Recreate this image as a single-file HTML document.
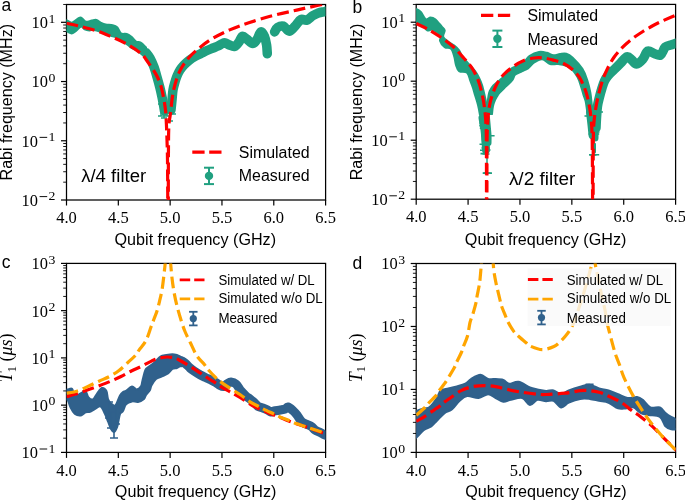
<!DOCTYPE html><html><head><meta charset="utf-8"><style>html,body{margin:0;padding:0;background:#fff;}svg{display:block;will-change:transform;} .tk{}</style></head><body>
<svg width="685" height="501" viewBox="0 0 685 501">
<defs><clipPath id="clipa"><rect x="66.5" y="4.5" width="259.1" height="195.5"/></clipPath><clipPath id="clipb"><rect x="416.2" y="4.4" width="259.4" height="194.8"/></clipPath><clipPath id="clipc"><rect x="66.5" y="263.4" width="259.1" height="189"/></clipPath><clipPath id="clipd"><rect x="416.2" y="263.5" width="259.4" height="188.9"/></clipPath></defs>
<rect width="685" height="501" fill="#fff"/>
<line x1="61" y1="200" x2="66.5" y2="200" stroke="#000" stroke-width="1.2"/>
<line x1="63.2" y1="182.17" x2="66.5" y2="182.17" stroke="#000" stroke-width="0.9"/>
<line x1="63.2" y1="171.74" x2="66.5" y2="171.74" stroke="#000" stroke-width="0.9"/>
<line x1="63.2" y1="164.34" x2="66.5" y2="164.34" stroke="#000" stroke-width="0.9"/>
<line x1="63.2" y1="158.6" x2="66.5" y2="158.6" stroke="#000" stroke-width="0.9"/>
<line x1="63.2" y1="153.91" x2="66.5" y2="153.91" stroke="#000" stroke-width="0.9"/>
<line x1="63.2" y1="149.94" x2="66.5" y2="149.94" stroke="#000" stroke-width="0.9"/>
<line x1="63.2" y1="146.51" x2="66.5" y2="146.51" stroke="#000" stroke-width="0.9"/>
<line x1="63.2" y1="143.48" x2="66.5" y2="143.48" stroke="#000" stroke-width="0.9"/>
<line x1="61" y1="140.77" x2="66.5" y2="140.77" stroke="#000" stroke-width="1.2"/>
<line x1="63.2" y1="122.94" x2="66.5" y2="122.94" stroke="#000" stroke-width="0.9"/>
<line x1="63.2" y1="112.51" x2="66.5" y2="112.51" stroke="#000" stroke-width="0.9"/>
<line x1="63.2" y1="105.1" x2="66.5" y2="105.1" stroke="#000" stroke-width="0.9"/>
<line x1="63.2" y1="99.36" x2="66.5" y2="99.36" stroke="#000" stroke-width="0.9"/>
<line x1="63.2" y1="94.67" x2="66.5" y2="94.67" stroke="#000" stroke-width="0.9"/>
<line x1="63.2" y1="90.71" x2="66.5" y2="90.71" stroke="#000" stroke-width="0.9"/>
<line x1="63.2" y1="87.27" x2="66.5" y2="87.27" stroke="#000" stroke-width="0.9"/>
<line x1="63.2" y1="84.24" x2="66.5" y2="84.24" stroke="#000" stroke-width="0.9"/>
<line x1="61" y1="81.53" x2="66.5" y2="81.53" stroke="#000" stroke-width="1.2"/>
<line x1="63.2" y1="63.7" x2="66.5" y2="63.7" stroke="#000" stroke-width="0.9"/>
<line x1="63.2" y1="53.27" x2="66.5" y2="53.27" stroke="#000" stroke-width="0.9"/>
<line x1="63.2" y1="45.87" x2="66.5" y2="45.87" stroke="#000" stroke-width="0.9"/>
<line x1="63.2" y1="40.13" x2="66.5" y2="40.13" stroke="#000" stroke-width="0.9"/>
<line x1="63.2" y1="35.44" x2="66.5" y2="35.44" stroke="#000" stroke-width="0.9"/>
<line x1="63.2" y1="31.48" x2="66.5" y2="31.48" stroke="#000" stroke-width="0.9"/>
<line x1="63.2" y1="28.04" x2="66.5" y2="28.04" stroke="#000" stroke-width="0.9"/>
<line x1="63.2" y1="25.01" x2="66.5" y2="25.01" stroke="#000" stroke-width="0.9"/>
<line x1="61" y1="22.3" x2="66.5" y2="22.3" stroke="#000" stroke-width="1.2"/>
<line x1="63.2" y1="4.47" x2="66.5" y2="4.47" stroke="#000" stroke-width="0.9"/>
<line x1="66.5" y1="200" x2="66.5" y2="205.5" stroke="#000" stroke-width="1.2"/>
<text x="66.5" y="223.2" text-anchor="middle" class="tk" style="font-family:'Liberation Serif',serif;font-size:16.5px">4.0</text>
<line x1="118.32" y1="200" x2="118.32" y2="205.5" stroke="#000" stroke-width="1.2"/>
<text x="118.32" y="223.2" text-anchor="middle" class="tk" style="font-family:'Liberation Serif',serif;font-size:16.5px">4.5</text>
<line x1="170.14" y1="200" x2="170.14" y2="205.5" stroke="#000" stroke-width="1.2"/>
<text x="170.14" y="223.2" text-anchor="middle" class="tk" style="font-family:'Liberation Serif',serif;font-size:16.5px">5.0</text>
<line x1="221.96" y1="200" x2="221.96" y2="205.5" stroke="#000" stroke-width="1.2"/>
<text x="221.96" y="223.2" text-anchor="middle" class="tk" style="font-family:'Liberation Serif',serif;font-size:16.5px">5.5</text>
<line x1="273.78" y1="200" x2="273.78" y2="205.5" stroke="#000" stroke-width="1.2"/>
<text x="273.78" y="223.2" text-anchor="middle" class="tk" style="font-family:'Liberation Serif',serif;font-size:16.5px">6.0</text>
<line x1="325.6" y1="200" x2="325.6" y2="205.5" stroke="#000" stroke-width="1.2"/>
<text x="325.6" y="223.2" text-anchor="middle" class="tk" style="font-family:'Liberation Serif',serif;font-size:16.5px">6.5</text>
<text transform="translate(47.9,28.2) scale(0.95,1)" text-anchor="end" class="tk" style="font-family:'Liberation Serif',serif;font-size:17.3px">10</text>
<text transform="translate(51.9,22.5) scale(1.12,1)" text-anchor="middle" class="tk" style="font-family:'Liberation Serif',serif;font-size:12.3px">1</text>
<text transform="translate(47.9,87.43) scale(0.95,1)" text-anchor="end" class="tk" style="font-family:'Liberation Serif',serif;font-size:17.3px">10</text>
<text transform="translate(51.9,81.73) scale(1.12,1)" text-anchor="middle" class="tk" style="font-family:'Liberation Serif',serif;font-size:12.3px">0</text>
<text transform="translate(37.9,146.67) scale(0.95,1)" text-anchor="end" class="tk" style="font-family:'Liberation Serif',serif;font-size:17.3px">10</text>
<text transform="translate(51.9,140.97) scale(1.12,1)" text-anchor="middle" class="tk" style="font-family:'Liberation Serif',serif;font-size:12.3px">1</text>
<line x1="39.6" y1="137.37" x2="47.2" y2="137.37" stroke="#000" stroke-width="0.95"/>
<text transform="translate(37.9,205.9) scale(0.95,1)" text-anchor="end" class="tk" style="font-family:'Liberation Serif',serif;font-size:17.3px">10</text>
<text transform="translate(51.9,200.2) scale(1.12,1)" text-anchor="middle" class="tk" style="font-family:'Liberation Serif',serif;font-size:12.3px">2</text>
<line x1="39.6" y1="196.6" x2="47.2" y2="196.6" stroke="#000" stroke-width="0.95"/>
<rect x="66.5" y="4.5" width="259.1" height="195.5" fill="none" stroke="#000" stroke-width="1.25"/>
<line x1="410.7" y1="199.2" x2="416.2" y2="199.2" stroke="#000" stroke-width="1.2"/>
<line x1="412.9" y1="181.44" x2="416.2" y2="181.44" stroke="#000" stroke-width="0.9"/>
<line x1="412.9" y1="171.05" x2="416.2" y2="171.05" stroke="#000" stroke-width="0.9"/>
<line x1="412.9" y1="163.68" x2="416.2" y2="163.68" stroke="#000" stroke-width="0.9"/>
<line x1="412.9" y1="157.96" x2="416.2" y2="157.96" stroke="#000" stroke-width="0.9"/>
<line x1="412.9" y1="153.29" x2="416.2" y2="153.29" stroke="#000" stroke-width="0.9"/>
<line x1="412.9" y1="149.34" x2="416.2" y2="149.34" stroke="#000" stroke-width="0.9"/>
<line x1="412.9" y1="145.92" x2="416.2" y2="145.92" stroke="#000" stroke-width="0.9"/>
<line x1="412.9" y1="142.9" x2="416.2" y2="142.9" stroke="#000" stroke-width="0.9"/>
<line x1="410.7" y1="140.2" x2="416.2" y2="140.2" stroke="#000" stroke-width="1.2"/>
<line x1="412.9" y1="122.44" x2="416.2" y2="122.44" stroke="#000" stroke-width="0.9"/>
<line x1="412.9" y1="112.05" x2="416.2" y2="112.05" stroke="#000" stroke-width="0.9"/>
<line x1="412.9" y1="104.68" x2="416.2" y2="104.68" stroke="#000" stroke-width="0.9"/>
<line x1="412.9" y1="98.96" x2="416.2" y2="98.96" stroke="#000" stroke-width="0.9"/>
<line x1="412.9" y1="94.29" x2="416.2" y2="94.29" stroke="#000" stroke-width="0.9"/>
<line x1="412.9" y1="90.34" x2="416.2" y2="90.34" stroke="#000" stroke-width="0.9"/>
<line x1="412.9" y1="86.92" x2="416.2" y2="86.92" stroke="#000" stroke-width="0.9"/>
<line x1="412.9" y1="83.9" x2="416.2" y2="83.9" stroke="#000" stroke-width="0.9"/>
<line x1="410.7" y1="81.2" x2="416.2" y2="81.2" stroke="#000" stroke-width="1.2"/>
<line x1="412.9" y1="63.44" x2="416.2" y2="63.44" stroke="#000" stroke-width="0.9"/>
<line x1="412.9" y1="53.05" x2="416.2" y2="53.05" stroke="#000" stroke-width="0.9"/>
<line x1="412.9" y1="45.68" x2="416.2" y2="45.68" stroke="#000" stroke-width="0.9"/>
<line x1="412.9" y1="39.96" x2="416.2" y2="39.96" stroke="#000" stroke-width="0.9"/>
<line x1="412.9" y1="35.29" x2="416.2" y2="35.29" stroke="#000" stroke-width="0.9"/>
<line x1="412.9" y1="31.34" x2="416.2" y2="31.34" stroke="#000" stroke-width="0.9"/>
<line x1="412.9" y1="27.92" x2="416.2" y2="27.92" stroke="#000" stroke-width="0.9"/>
<line x1="412.9" y1="24.9" x2="416.2" y2="24.9" stroke="#000" stroke-width="0.9"/>
<line x1="410.7" y1="22.2" x2="416.2" y2="22.2" stroke="#000" stroke-width="1.2"/>
<line x1="412.9" y1="4.44" x2="416.2" y2="4.44" stroke="#000" stroke-width="0.9"/>
<line x1="416.2" y1="199.2" x2="416.2" y2="204.7" stroke="#000" stroke-width="1.2"/>
<text x="416.2" y="222.4" text-anchor="middle" class="tk" style="font-family:'Liberation Serif',serif;font-size:16.5px">4.0</text>
<line x1="468.08" y1="199.2" x2="468.08" y2="204.7" stroke="#000" stroke-width="1.2"/>
<text x="468.08" y="222.4" text-anchor="middle" class="tk" style="font-family:'Liberation Serif',serif;font-size:16.5px">4.5</text>
<line x1="519.96" y1="199.2" x2="519.96" y2="204.7" stroke="#000" stroke-width="1.2"/>
<text x="519.96" y="222.4" text-anchor="middle" class="tk" style="font-family:'Liberation Serif',serif;font-size:16.5px">5.0</text>
<line x1="571.84" y1="199.2" x2="571.84" y2="204.7" stroke="#000" stroke-width="1.2"/>
<text x="571.84" y="222.4" text-anchor="middle" class="tk" style="font-family:'Liberation Serif',serif;font-size:16.5px">5.5</text>
<line x1="623.72" y1="199.2" x2="623.72" y2="204.7" stroke="#000" stroke-width="1.2"/>
<text x="623.72" y="222.4" text-anchor="middle" class="tk" style="font-family:'Liberation Serif',serif;font-size:16.5px">6.0</text>
<line x1="675.6" y1="199.2" x2="675.6" y2="204.7" stroke="#000" stroke-width="1.2"/>
<text x="675.6" y="222.4" text-anchor="middle" class="tk" style="font-family:'Liberation Serif',serif;font-size:16.5px">6.5</text>
<text transform="translate(397.6,28.1) scale(0.95,1)" text-anchor="end" class="tk" style="font-family:'Liberation Serif',serif;font-size:17.3px">10</text>
<text transform="translate(401.6,22.4) scale(1.12,1)" text-anchor="middle" class="tk" style="font-family:'Liberation Serif',serif;font-size:12.3px">1</text>
<text transform="translate(397.6,87.1) scale(0.95,1)" text-anchor="end" class="tk" style="font-family:'Liberation Serif',serif;font-size:17.3px">10</text>
<text transform="translate(401.6,81.4) scale(1.12,1)" text-anchor="middle" class="tk" style="font-family:'Liberation Serif',serif;font-size:12.3px">0</text>
<text transform="translate(387.6,146.1) scale(0.95,1)" text-anchor="end" class="tk" style="font-family:'Liberation Serif',serif;font-size:17.3px">10</text>
<text transform="translate(401.6,140.4) scale(1.12,1)" text-anchor="middle" class="tk" style="font-family:'Liberation Serif',serif;font-size:12.3px">1</text>
<line x1="389.3" y1="136.8" x2="396.9" y2="136.8" stroke="#000" stroke-width="0.95"/>
<text transform="translate(387.6,205.1) scale(0.95,1)" text-anchor="end" class="tk" style="font-family:'Liberation Serif',serif;font-size:17.3px">10</text>
<text transform="translate(401.6,199.4) scale(1.12,1)" text-anchor="middle" class="tk" style="font-family:'Liberation Serif',serif;font-size:12.3px">2</text>
<line x1="389.3" y1="195.8" x2="396.9" y2="195.8" stroke="#000" stroke-width="0.95"/>
<rect x="416.2" y="4.4" width="259.4" height="194.8" fill="none" stroke="#000" stroke-width="1.25"/>
<line x1="61" y1="452.4" x2="66.5" y2="452.4" stroke="#000" stroke-width="1.2"/>
<line x1="63.2" y1="438.18" x2="66.5" y2="438.18" stroke="#000" stroke-width="0.9"/>
<line x1="63.2" y1="429.86" x2="66.5" y2="429.86" stroke="#000" stroke-width="0.9"/>
<line x1="63.2" y1="423.95" x2="66.5" y2="423.95" stroke="#000" stroke-width="0.9"/>
<line x1="63.2" y1="419.37" x2="66.5" y2="419.37" stroke="#000" stroke-width="0.9"/>
<line x1="63.2" y1="415.63" x2="66.5" y2="415.63" stroke="#000" stroke-width="0.9"/>
<line x1="63.2" y1="412.47" x2="66.5" y2="412.47" stroke="#000" stroke-width="0.9"/>
<line x1="63.2" y1="409.73" x2="66.5" y2="409.73" stroke="#000" stroke-width="0.9"/>
<line x1="63.2" y1="407.31" x2="66.5" y2="407.31" stroke="#000" stroke-width="0.9"/>
<line x1="61" y1="405.15" x2="66.5" y2="405.15" stroke="#000" stroke-width="1.2"/>
<line x1="63.2" y1="390.93" x2="66.5" y2="390.93" stroke="#000" stroke-width="0.9"/>
<line x1="63.2" y1="382.61" x2="66.5" y2="382.61" stroke="#000" stroke-width="0.9"/>
<line x1="63.2" y1="376.7" x2="66.5" y2="376.7" stroke="#000" stroke-width="0.9"/>
<line x1="63.2" y1="372.12" x2="66.5" y2="372.12" stroke="#000" stroke-width="0.9"/>
<line x1="63.2" y1="368.38" x2="66.5" y2="368.38" stroke="#000" stroke-width="0.9"/>
<line x1="63.2" y1="365.22" x2="66.5" y2="365.22" stroke="#000" stroke-width="0.9"/>
<line x1="63.2" y1="362.48" x2="66.5" y2="362.48" stroke="#000" stroke-width="0.9"/>
<line x1="63.2" y1="360.06" x2="66.5" y2="360.06" stroke="#000" stroke-width="0.9"/>
<line x1="61" y1="357.9" x2="66.5" y2="357.9" stroke="#000" stroke-width="1.2"/>
<line x1="63.2" y1="343.68" x2="66.5" y2="343.68" stroke="#000" stroke-width="0.9"/>
<line x1="63.2" y1="335.36" x2="66.5" y2="335.36" stroke="#000" stroke-width="0.9"/>
<line x1="63.2" y1="329.45" x2="66.5" y2="329.45" stroke="#000" stroke-width="0.9"/>
<line x1="63.2" y1="324.87" x2="66.5" y2="324.87" stroke="#000" stroke-width="0.9"/>
<line x1="63.2" y1="321.13" x2="66.5" y2="321.13" stroke="#000" stroke-width="0.9"/>
<line x1="63.2" y1="317.97" x2="66.5" y2="317.97" stroke="#000" stroke-width="0.9"/>
<line x1="63.2" y1="315.23" x2="66.5" y2="315.23" stroke="#000" stroke-width="0.9"/>
<line x1="63.2" y1="312.81" x2="66.5" y2="312.81" stroke="#000" stroke-width="0.9"/>
<line x1="61" y1="310.65" x2="66.5" y2="310.65" stroke="#000" stroke-width="1.2"/>
<line x1="63.2" y1="296.43" x2="66.5" y2="296.43" stroke="#000" stroke-width="0.9"/>
<line x1="63.2" y1="288.11" x2="66.5" y2="288.11" stroke="#000" stroke-width="0.9"/>
<line x1="63.2" y1="282.2" x2="66.5" y2="282.2" stroke="#000" stroke-width="0.9"/>
<line x1="63.2" y1="277.62" x2="66.5" y2="277.62" stroke="#000" stroke-width="0.9"/>
<line x1="63.2" y1="273.88" x2="66.5" y2="273.88" stroke="#000" stroke-width="0.9"/>
<line x1="63.2" y1="270.72" x2="66.5" y2="270.72" stroke="#000" stroke-width="0.9"/>
<line x1="63.2" y1="267.98" x2="66.5" y2="267.98" stroke="#000" stroke-width="0.9"/>
<line x1="63.2" y1="265.56" x2="66.5" y2="265.56" stroke="#000" stroke-width="0.9"/>
<line x1="61" y1="263.4" x2="66.5" y2="263.4" stroke="#000" stroke-width="1.2"/>
<line x1="66.5" y1="452.4" x2="66.5" y2="457.9" stroke="#000" stroke-width="1.2"/>
<text x="66.5" y="475.6" text-anchor="middle" class="tk" style="font-family:'Liberation Serif',serif;font-size:16.5px">4.0</text>
<line x1="118.32" y1="452.4" x2="118.32" y2="457.9" stroke="#000" stroke-width="1.2"/>
<text x="118.32" y="475.6" text-anchor="middle" class="tk" style="font-family:'Liberation Serif',serif;font-size:16.5px">4.5</text>
<line x1="170.14" y1="452.4" x2="170.14" y2="457.9" stroke="#000" stroke-width="1.2"/>
<text x="170.14" y="475.6" text-anchor="middle" class="tk" style="font-family:'Liberation Serif',serif;font-size:16.5px">5.0</text>
<line x1="221.96" y1="452.4" x2="221.96" y2="457.9" stroke="#000" stroke-width="1.2"/>
<text x="221.96" y="475.6" text-anchor="middle" class="tk" style="font-family:'Liberation Serif',serif;font-size:16.5px">5.5</text>
<line x1="273.78" y1="452.4" x2="273.78" y2="457.9" stroke="#000" stroke-width="1.2"/>
<text x="273.78" y="475.6" text-anchor="middle" class="tk" style="font-family:'Liberation Serif',serif;font-size:16.5px">6.0</text>
<line x1="325.6" y1="452.4" x2="325.6" y2="457.9" stroke="#000" stroke-width="1.2"/>
<text x="325.6" y="475.6" text-anchor="middle" class="tk" style="font-family:'Liberation Serif',serif;font-size:16.5px">6.5</text>
<text transform="translate(47.9,269.3) scale(0.95,1)" text-anchor="end" class="tk" style="font-family:'Liberation Serif',serif;font-size:17.3px">10</text>
<text transform="translate(51.9,263.6) scale(1.12,1)" text-anchor="middle" class="tk" style="font-family:'Liberation Serif',serif;font-size:12.3px">3</text>
<text transform="translate(47.9,316.55) scale(0.95,1)" text-anchor="end" class="tk" style="font-family:'Liberation Serif',serif;font-size:17.3px">10</text>
<text transform="translate(51.9,310.85) scale(1.12,1)" text-anchor="middle" class="tk" style="font-family:'Liberation Serif',serif;font-size:12.3px">2</text>
<text transform="translate(47.9,363.8) scale(0.95,1)" text-anchor="end" class="tk" style="font-family:'Liberation Serif',serif;font-size:17.3px">10</text>
<text transform="translate(51.9,358.1) scale(1.12,1)" text-anchor="middle" class="tk" style="font-family:'Liberation Serif',serif;font-size:12.3px">1</text>
<text transform="translate(47.9,411.05) scale(0.95,1)" text-anchor="end" class="tk" style="font-family:'Liberation Serif',serif;font-size:17.3px">10</text>
<text transform="translate(51.9,405.35) scale(1.12,1)" text-anchor="middle" class="tk" style="font-family:'Liberation Serif',serif;font-size:12.3px">0</text>
<text transform="translate(37.9,458.3) scale(0.95,1)" text-anchor="end" class="tk" style="font-family:'Liberation Serif',serif;font-size:17.3px">10</text>
<text transform="translate(51.9,452.6) scale(1.12,1)" text-anchor="middle" class="tk" style="font-family:'Liberation Serif',serif;font-size:12.3px">1</text>
<line x1="39.6" y1="449" x2="47.2" y2="449" stroke="#000" stroke-width="0.95"/>
<rect x="66.5" y="263.4" width="259.1" height="189" fill="none" stroke="#000" stroke-width="1.25"/>
<line x1="410.7" y1="452.4" x2="416.2" y2="452.4" stroke="#000" stroke-width="1.2"/>
<line x1="412.9" y1="433.45" x2="416.2" y2="433.45" stroke="#000" stroke-width="0.9"/>
<line x1="412.9" y1="422.36" x2="416.2" y2="422.36" stroke="#000" stroke-width="0.9"/>
<line x1="412.9" y1="414.49" x2="416.2" y2="414.49" stroke="#000" stroke-width="0.9"/>
<line x1="412.9" y1="408.39" x2="416.2" y2="408.39" stroke="#000" stroke-width="0.9"/>
<line x1="412.9" y1="403.4" x2="416.2" y2="403.4" stroke="#000" stroke-width="0.9"/>
<line x1="412.9" y1="399.19" x2="416.2" y2="399.19" stroke="#000" stroke-width="0.9"/>
<line x1="412.9" y1="395.54" x2="416.2" y2="395.54" stroke="#000" stroke-width="0.9"/>
<line x1="412.9" y1="392.31" x2="416.2" y2="392.31" stroke="#000" stroke-width="0.9"/>
<line x1="410.7" y1="389.43" x2="416.2" y2="389.43" stroke="#000" stroke-width="1.2"/>
<line x1="412.9" y1="370.48" x2="416.2" y2="370.48" stroke="#000" stroke-width="0.9"/>
<line x1="412.9" y1="359.39" x2="416.2" y2="359.39" stroke="#000" stroke-width="0.9"/>
<line x1="412.9" y1="351.52" x2="416.2" y2="351.52" stroke="#000" stroke-width="0.9"/>
<line x1="412.9" y1="345.42" x2="416.2" y2="345.42" stroke="#000" stroke-width="0.9"/>
<line x1="412.9" y1="340.44" x2="416.2" y2="340.44" stroke="#000" stroke-width="0.9"/>
<line x1="412.9" y1="336.22" x2="416.2" y2="336.22" stroke="#000" stroke-width="0.9"/>
<line x1="412.9" y1="332.57" x2="416.2" y2="332.57" stroke="#000" stroke-width="0.9"/>
<line x1="412.9" y1="329.35" x2="416.2" y2="329.35" stroke="#000" stroke-width="0.9"/>
<line x1="410.7" y1="326.47" x2="416.2" y2="326.47" stroke="#000" stroke-width="1.2"/>
<line x1="412.9" y1="307.51" x2="416.2" y2="307.51" stroke="#000" stroke-width="0.9"/>
<line x1="412.9" y1="296.42" x2="416.2" y2="296.42" stroke="#000" stroke-width="0.9"/>
<line x1="412.9" y1="288.56" x2="416.2" y2="288.56" stroke="#000" stroke-width="0.9"/>
<line x1="412.9" y1="282.45" x2="416.2" y2="282.45" stroke="#000" stroke-width="0.9"/>
<line x1="412.9" y1="277.47" x2="416.2" y2="277.47" stroke="#000" stroke-width="0.9"/>
<line x1="412.9" y1="273.25" x2="416.2" y2="273.25" stroke="#000" stroke-width="0.9"/>
<line x1="412.9" y1="269.6" x2="416.2" y2="269.6" stroke="#000" stroke-width="0.9"/>
<line x1="412.9" y1="266.38" x2="416.2" y2="266.38" stroke="#000" stroke-width="0.9"/>
<line x1="410.7" y1="263.5" x2="416.2" y2="263.5" stroke="#000" stroke-width="1.2"/>
<line x1="416.2" y1="452.4" x2="416.2" y2="457.9" stroke="#000" stroke-width="1.2"/>
<text x="416.2" y="475.6" text-anchor="middle" class="tk" style="font-family:'Liberation Serif',serif;font-size:16.5px">4.0</text>
<line x1="468.08" y1="452.4" x2="468.08" y2="457.9" stroke="#000" stroke-width="1.2"/>
<text x="468.08" y="475.6" text-anchor="middle" class="tk" style="font-family:'Liberation Serif',serif;font-size:16.5px">4.5</text>
<line x1="519.96" y1="452.4" x2="519.96" y2="457.9" stroke="#000" stroke-width="1.2"/>
<text x="519.96" y="475.6" text-anchor="middle" class="tk" style="font-family:'Liberation Serif',serif;font-size:16.5px">5.0</text>
<line x1="571.84" y1="452.4" x2="571.84" y2="457.9" stroke="#000" stroke-width="1.2"/>
<text x="571.84" y="475.6" text-anchor="middle" class="tk" style="font-family:'Liberation Serif',serif;font-size:16.5px">5.5</text>
<line x1="623.72" y1="452.4" x2="623.72" y2="457.9" stroke="#000" stroke-width="1.2"/>
<text x="621.82" y="475.6" text-anchor="middle" class="tk" style="font-family:'Liberation Serif',serif;font-size:16.5px">60</text>
<line x1="675.6" y1="452.4" x2="675.6" y2="457.9" stroke="#000" stroke-width="1.2"/>
<text x="675.6" y="475.6" text-anchor="middle" class="tk" style="font-family:'Liberation Serif',serif;font-size:16.5px">6.5</text>
<text transform="translate(397.6,269.4) scale(0.95,1)" text-anchor="end" class="tk" style="font-family:'Liberation Serif',serif;font-size:17.3px">10</text>
<text transform="translate(401.6,263.7) scale(1.12,1)" text-anchor="middle" class="tk" style="font-family:'Liberation Serif',serif;font-size:12.3px">3</text>
<text transform="translate(397.6,332.37) scale(0.95,1)" text-anchor="end" class="tk" style="font-family:'Liberation Serif',serif;font-size:17.3px">10</text>
<text transform="translate(401.6,326.67) scale(1.12,1)" text-anchor="middle" class="tk" style="font-family:'Liberation Serif',serif;font-size:12.3px">2</text>
<text transform="translate(397.6,395.33) scale(0.95,1)" text-anchor="end" class="tk" style="font-family:'Liberation Serif',serif;font-size:17.3px">10</text>
<text transform="translate(401.6,389.63) scale(1.12,1)" text-anchor="middle" class="tk" style="font-family:'Liberation Serif',serif;font-size:12.3px">1</text>
<text transform="translate(397.6,458.3) scale(0.95,1)" text-anchor="end" class="tk" style="font-family:'Liberation Serif',serif;font-size:17.3px">10</text>
<text transform="translate(401.6,452.6) scale(1.12,1)" text-anchor="middle" class="tk" style="font-family:'Liberation Serif',serif;font-size:12.3px">0</text>
<rect x="416.2" y="263.5" width="259.4" height="188.9" fill="none" stroke="#000" stroke-width="1.25"/>
<g clip-path="url(#clipa)">
<path d="M62,19.9 C62.67,19.9 64.37,19.42 66,19.9 C67.63,20.38 69.85,22.98 71.8,22.8 C73.75,22.62 76.13,19.67 77.7,18.8 C79.27,17.93 79.83,17.12 81.2,17.6 C82.57,18.08 84.15,21.22 85.9,21.7 C87.65,22.18 89.95,20.8 91.7,20.5 C93.45,20.2 94.85,19.52 96.4,19.9 C97.95,20.28 99.45,22.02 101,22.8 C102.55,23.58 103.75,24.2 105.7,24.6 C107.65,25 110.75,24.72 112.7,25.2 C114.65,25.68 116.03,26.13 117.4,27.5 C118.77,28.87 119.35,32.32 120.9,33.4 C122.45,34.48 124.95,33.42 126.7,34 C128.45,34.58 129.85,35.65 131.4,36.9 C132.95,38.15 134.45,40.53 136,41.5 C137.55,42.47 139.03,41.72 140.7,42.7 C142.37,43.68 145.12,46.62 146,47.4 L146,57.9 C145.32,57.32 143.37,55.57 141.9,54.4 C140.43,53.23 138.75,51.88 137.2,50.9 C135.65,49.92 134.15,49.48 132.6,48.5 C131.05,47.52 129.67,46.25 127.9,45 C126.13,43.75 123.75,42.17 122,41 C120.25,39.83 118.95,38.78 117.4,38 C115.85,37.22 114.65,36.88 112.7,36.3 C110.75,35.72 107.83,35.28 105.7,34.5 C103.57,33.72 101.85,32.37 99.9,31.6 C97.95,30.83 95.75,30.1 94,29.9 C92.25,29.7 90.95,30.5 89.4,30.4 C87.85,30.3 86.07,29.97 84.7,29.3 C83.33,28.63 82.57,26.22 81.2,26.4 C79.83,26.58 78.07,29.23 76.5,30.4 C74.93,31.57 73.55,33.3 71.8,33.4 C70.05,33.5 67.63,31.4 66,31 C64.37,30.6 62.67,31 62,31 Z" fill="#20a080" stroke="#20a080" stroke-width="2" stroke-linejoin="round"/>
<path d="M146,52.6 C146.67,53.5 148.67,55.6 150,58 C151.33,60.4 152.83,63.83 154,67 C155.17,70.17 156,73.5 157,77 C158,80.5 159.17,84.67 160,88 C160.83,91.33 161.42,94.17 162,97 C162.58,99.83 163.08,102.67 163.5,105 C163.92,107.33 164.33,110 164.5,111" fill="none" stroke="#20a080" stroke-width="9.5" stroke-linecap="round" stroke-linejoin="round"/>
<path d="M171,110 C171.17,108.33 171.67,103.33 172,100 C172.33,96.67 172.5,93 173,90 C173.5,87 174.33,84.33 175,82 C175.67,79.67 176.17,78 177,76 C177.83,74 178.83,71.83 180,70 C181.17,68.17 182.5,66.58 184,65 C185.5,63.42 187.17,61.92 189,60.5 C190.83,59.08 193,57.67 195,56.5 C197,55.33 199,54.5 201,53.5 C203,52.5 205,51.42 207,50.5 C209,49.58 211.17,48.75 213,48 C214.83,47.25 216.42,46.75 218,46 C219.58,45.25 221.33,44.03 222.5,43.5 C223.67,42.97 223.85,42.55 225,42.8 C226.15,43.05 227.82,44.38 229.4,45 C230.98,45.62 232.92,46.98 234.5,46.5 C236.08,46.02 237.57,43.8 238.9,42.1 C240.23,40.4 241.17,36.78 242.5,36.3 C243.83,35.82 245.2,37.98 246.9,39.2 C248.6,40.42 251,43.6 252.7,43.6 C254.4,43.6 255.75,41.15 257.1,39.2 C258.45,37.25 259.58,32.38 260.8,31.9 C262.02,31.42 263.43,34.12 264.4,36.3 C265.37,38.48 266.12,42.08 266.6,45 C267.08,47.92 267.18,52.33 267.3,53.8" fill="none" stroke="#20a080" stroke-width="9.5" stroke-linecap="round" stroke-linejoin="round"/>
<path d="M274.6,31.9 C275.1,31.17 276.13,28.47 277.6,27.5 C279.07,26.53 281.47,25.48 283.4,26.1 C285.33,26.72 287.25,31.2 289.2,31.2 C291.15,31.2 293.15,28.05 295.1,26.1 C297.05,24.15 298.95,20.48 300.9,19.5 C302.85,18.52 304.85,20.82 306.8,20.2 C308.75,19.58 310.67,17.02 312.6,15.8 C314.53,14.58 316.33,13.62 318.4,12.9 C320.47,12.18 323.07,11.98 325,11.5 C326.93,11.02 329.17,10.25 330,10" fill="none" stroke="#20a080" stroke-width="9.5" stroke-linecap="round" stroke-linejoin="round"/>
<line x1="161" y1="104" x2="161" y2="116" stroke="#20a080" stroke-width="1.5"/><line x1="158" y1="104" x2="164" y2="104" stroke="#20a080" stroke-width="1.5"/><line x1="158" y1="116" x2="164" y2="116" stroke="#20a080" stroke-width="1.5"/>
<line x1="164" y1="106" x2="164" y2="118" stroke="#20a080" stroke-width="1.5"/><line x1="161" y1="106" x2="167" y2="106" stroke="#20a080" stroke-width="1.5"/><line x1="161" y1="118" x2="167" y2="118" stroke="#20a080" stroke-width="1.5"/>
<line x1="167" y1="106" x2="167" y2="116" stroke="#20a080" stroke-width="1.5"/><line x1="164" y1="106" x2="170" y2="106" stroke="#20a080" stroke-width="1.5"/><line x1="164" y1="116" x2="170" y2="116" stroke="#20a080" stroke-width="1.5"/>
<line x1="170" y1="104" x2="170" y2="121" stroke="#20a080" stroke-width="1.5"/><line x1="167" y1="104" x2="173" y2="104" stroke="#20a080" stroke-width="1.5"/><line x1="167" y1="121" x2="173" y2="121" stroke="#20a080" stroke-width="1.5"/>
<line x1="173" y1="100" x2="173" y2="114" stroke="#20a080" stroke-width="1.5"/><line x1="170" y1="100" x2="176" y2="100" stroke="#20a080" stroke-width="1.5"/><line x1="170" y1="114" x2="176" y2="114" stroke="#20a080" stroke-width="1.5"/>
<path id="a_red_left" d="M66.5,23.3 C68.37,23.72 72.92,24.62 77.7,25.8 C82.48,26.98 89.75,28.65 95.2,30.4 C100.65,32.15 105.33,34.15 110.4,36.3 C115.47,38.45 120.55,40.48 125.6,43.3 C130.65,46.12 137.23,50.42 140.7,53.2 C144.17,55.98 143.85,56.47 146.4,60 C148.95,63.53 153.6,70.13 156,74.4 C158.4,78.67 159.47,81.33 160.8,85.6 C162.13,89.87 163.2,95.77 164,100 C164.8,104.23 165.2,107 165.6,111 C166,115 166.17,119.17 166.4,124 C166.63,128.83 166.82,134 167,140 C167.18,146 167.37,149.17 167.5,160 C167.63,170.83 167.75,197.5 167.8,205" fill="none" stroke="#ff0000" stroke-width="3.2" stroke-dasharray="11.84 5.12" stroke-dashoffset="0"/>
<path id="a_red_right" d="M168.3,205 C168.32,197.5 168.32,173 168.4,160 C168.48,147 168.47,134.67 168.8,127 C169.13,119.33 169.63,120 170.4,114 C171.17,108 171.9,98.02 173.4,91 C174.9,83.98 176.8,77.48 179.4,71.9 C182,66.32 185.42,61.7 189,57.5 C192.58,53.3 196.92,49.9 200.9,46.7 C204.88,43.5 208.1,41.1 212.9,38.3 C217.7,35.5 223.72,32.48 229.7,29.9 C235.68,27.32 241.62,25.18 248.8,22.8 C255.98,20.42 264.82,17.72 272.8,15.6 C280.78,13.48 289.12,11.82 296.7,10.1 C304.28,8.38 312.75,6.48 318.3,5.3 C323.85,4.12 328.05,3.38 330,3" fill="none" stroke="#ff0000" stroke-width="3.2" stroke-dasharray="11.84 5.12" stroke-dashoffset="3.32"/>
</g>
<g clip-path="url(#clipb)">
<path d="M414,8.8 C414.33,8.8 414.87,8.27 416,8.8 C417.13,9.33 419.2,10.27 420.8,12 C422.4,13.73 424,18.27 425.6,19.2 C427.2,20.13 428.8,17.6 430.4,17.6 C432,17.6 433.33,17.73 435.2,19.2 C437.07,20.67 440.02,24.55 441.6,26.4 C443.18,28.25 444.43,28.58 444.7,30.3 C444.97,32.02 442.65,34.83 443.2,36.7 C443.75,38.57 446.15,40.03 448,41.5 C449.85,42.97 452.45,44.03 454.3,45.5 C456.15,46.97 457.77,48.43 459.1,50.3 C460.43,52.17 460.7,54.43 462.3,56.7 C463.9,58.97 466.57,61.5 468.7,63.9 C470.83,66.3 473.37,68.75 475.1,71.1 C476.83,73.45 477.95,75.68 479.1,78 C480.25,80.32 481.1,82.17 482,85 C482.9,87.83 483.75,91.67 484.5,95 C485.25,98.33 486,101.67 486.5,105 C487,108.33 487.33,113.33 487.5,115 L480,115 C479.67,113.33 478.83,108.33 478,105 C477.17,101.67 475.83,97.83 475,95 C474.17,92.17 473.78,90.38 473,88 C472.22,85.62 471.28,83.25 470.3,80.7 C469.32,78.15 468.97,74.3 467.1,72.7 C465.23,71.1 460.97,72.43 459.1,71.1 C457.23,69.77 456.7,67.1 455.9,64.7 C455.1,62.3 455.1,59.37 454.3,56.7 C453.5,54.03 452.7,50.3 451.1,48.7 C449.5,47.1 446.55,48.43 444.7,47.1 C442.85,45.77 440.52,42.55 440,40.7 C439.48,38.85 442.13,37.45 441.6,36 C441.07,34.55 438.4,33.08 436.8,32 C435.2,30.92 433.6,29.78 432,29.5 C430.4,29.22 428.8,31.08 427.2,30.3 C425.6,29.52 424.27,26.25 422.4,24.8 C420.53,23.35 417.4,22.13 416,21.6 C414.6,21.07 414.33,21.6 414,21.6 Z" fill="#20a080" stroke="#20a080" stroke-width="2" stroke-linejoin="round"/>
<path d="M487,114 C487.08,112.33 487.25,107 487.5,104 C487.75,101 488.12,98.17 488.5,96 C488.88,93.83 488.98,92.75 489.8,91 C490.62,89.25 491.75,87.3 493.4,85.5 C495.05,83.7 497.6,81.98 499.7,80.2 C501.8,78.42 504.05,76.75 506,74.8 C507.95,72.85 509.45,70 511.4,68.5 C513.35,67 515.6,66.85 517.7,65.8 C519.8,64.75 522.05,63.82 524,62.2 C525.95,60.58 526.9,57.8 529.4,56.1 C531.9,54.4 536.07,52.55 539,52 C541.93,51.45 544.6,52.25 547,52.8 C549.4,53.35 551.23,55.1 553.4,55.3 C555.57,55.5 557.85,54.27 560,54 C562.15,53.73 564.18,53.08 566.3,53.7 C568.42,54.32 570.02,55.17 572.7,57.7 C575.38,60.23 579.98,65.17 582.4,68.9 C584.82,72.63 585.87,76.08 587.2,80.1 C588.53,84.12 589.6,88.68 590.4,93 C591.2,97.32 591.4,102.33 592,106 C592.6,109.67 593.67,113.5 594,115 L588,116 C587.83,115 587.4,112.5 587,110 C586.6,107.5 586.18,103.5 585.6,101 C585.02,98.5 584.18,97.17 583.5,95 C582.82,92.83 582.5,91.02 581.5,88 C580.5,84.98 579.5,80.35 577.5,76.9 C575.5,73.45 572.7,69.43 569.5,67.3 C566.3,65.17 561.52,64.63 558.3,64.1 C555.08,63.57 552.88,64.9 550.2,64.1 C547.52,63.3 544.87,59.57 542.2,59.3 C539.53,59.03 536.57,60.97 534.2,62.5 C531.83,64.03 529.7,67.2 528,68.5 C526.3,69.8 525.27,69.7 524,70.3 C522.73,70.9 521.9,71.35 520.4,72.1 C518.9,72.85 516.35,73.45 515,74.8 C513.65,76.15 513.8,78.27 512.3,80.2 C510.8,82.13 508.1,84.32 506,86.4 C503.9,88.48 501.2,91.02 499.7,92.7 C498.2,94.38 497.78,95.28 497,96.5 C496.22,97.72 495.67,98.42 495,100 C494.33,101.58 493.5,103.67 493,106 C492.5,108.33 492.17,112.67 492,114 Z" fill="#20a080" stroke="#20a080" stroke-width="2" stroke-linejoin="round"/>
<path d="M596,128 C596.08,126.33 596.25,121.67 596.5,118 C596.75,114.33 597,109.5 597.5,106 C598,102.5 598.75,100 599.5,97 C600.25,94 601.17,90.67 602,88 C602.83,85.33 603.53,83.02 604.5,81 C605.47,78.98 606.18,77.82 607.8,75.9 C609.42,73.98 612.07,71.63 614.2,69.5 C616.33,67.37 618.47,65.23 620.6,63.1 C622.73,60.97 625.15,57.23 627,56.7 C628.85,56.17 630.12,58.7 631.7,59.9 C633.28,61.1 634.63,64.03 636.5,63.9 C638.37,63.77 641.03,61.23 642.9,59.1 C644.77,56.97 645.83,52.03 647.7,51.1 C649.57,50.17 651.97,52.83 654.1,53.5 C656.23,54.17 658.63,56.17 660.5,55.1 C662.37,54.03 663.43,48.83 665.3,47.1 C667.17,45.37 669.25,45.55 671.7,44.7 C674.15,43.85 678.62,42.45 680,42" fill="none" stroke="#20a080" stroke-width="9.5" stroke-linecap="round" stroke-linejoin="round"/>
<path d="M484,112 C484.17,114.17 484.75,120.33 485,125 C485.25,129.67 485.33,135.83 485.5,140 C485.67,144.17 485.92,148.33 486,150" fill="none" stroke="#20a080" stroke-width="8" stroke-linecap="round" stroke-linejoin="round"/>
<path d="M590,112 C590.25,114.17 591.08,121.17 591.5,125 C591.92,128.83 592.33,133.33 592.5,135" fill="none" stroke="#20a080" stroke-width="8" stroke-linecap="round" stroke-linejoin="round"/>
<line x1="484" y1="118" x2="484" y2="128" stroke="#20a080" stroke-width="1.5"/><line x1="480.5" y1="118" x2="487.5" y2="118" stroke="#20a080" stroke-width="1.5"/><line x1="480.5" y1="128" x2="487.5" y2="128" stroke="#20a080" stroke-width="1.5"/>
<line x1="485" y1="124" x2="485" y2="136" stroke="#20a080" stroke-width="1.5"/><line x1="481.5" y1="124" x2="488.5" y2="124" stroke="#20a080" stroke-width="1.5"/><line x1="481.5" y1="136" x2="488.5" y2="136" stroke="#20a080" stroke-width="1.5"/>
<line x1="485" y1="132" x2="485" y2="148" stroke="#20a080" stroke-width="1.5"/><line x1="481.5" y1="132" x2="488.5" y2="132" stroke="#20a080" stroke-width="1.5"/><line x1="481.5" y1="148" x2="488.5" y2="148" stroke="#20a080" stroke-width="1.5"/>
<line x1="486" y1="142" x2="486" y2="154" stroke="#20a080" stroke-width="1.5"/><line x1="482.5" y1="142" x2="489.5" y2="142" stroke="#20a080" stroke-width="1.5"/><line x1="482.5" y1="154" x2="489.5" y2="154" stroke="#20a080" stroke-width="1.5"/>
<line x1="487" y1="150" x2="487" y2="173" stroke="#20a080" stroke-width="1.5"/><line x1="483.5" y1="150" x2="490.5" y2="150" stroke="#20a080" stroke-width="1.5"/><line x1="483.5" y1="173" x2="490.5" y2="173" stroke="#20a080" stroke-width="1.5"/>
<line x1="592" y1="120" x2="592" y2="134" stroke="#20a080" stroke-width="1.5"/><line x1="588.5" y1="120" x2="595.5" y2="120" stroke="#20a080" stroke-width="1.5"/><line x1="588.5" y1="134" x2="595.5" y2="134" stroke="#20a080" stroke-width="1.5"/>
<line x1="593" y1="128" x2="593" y2="155" stroke="#20a080" stroke-width="1.5"/><line x1="589.5" y1="128" x2="596.5" y2="128" stroke="#20a080" stroke-width="1.5"/><line x1="589.5" y1="155" x2="596.5" y2="155" stroke="#20a080" stroke-width="1.5"/>
<line x1="596" y1="118" x2="596" y2="132" stroke="#20a080" stroke-width="1.5"/><line x1="592.5" y1="118" x2="599.5" y2="118" stroke="#20a080" stroke-width="1.5"/><line x1="592.5" y1="132" x2="599.5" y2="132" stroke="#20a080" stroke-width="1.5"/>
<line x1="479.3" y1="123" x2="487" y2="123" stroke="#20a080" stroke-width="1.6"/>
<line x1="479.3" y1="125.6" x2="487" y2="125.6" stroke="#20a080" stroke-width="1.6"/>
<line x1="479.8" y1="128.2" x2="487" y2="128.2" stroke="#20a080" stroke-width="1.6"/>
<line x1="490.4" y1="135.7" x2="494.6" y2="135.7" stroke="#20a080" stroke-width="1.6"/>
<line x1="479.5" y1="144.2" x2="486" y2="144.2" stroke="#20a080" stroke-width="1.6"/>
<line x1="480" y1="150.2" x2="487" y2="150.2" stroke="#20a080" stroke-width="1.6"/>
<line x1="480.5" y1="153.6" x2="487" y2="153.6" stroke="#20a080" stroke-width="1.6"/>
<line x1="482.7" y1="173.1" x2="492" y2="173.1" stroke="#20a080" stroke-width="1.6"/>
<line x1="592.4" y1="134" x2="599.2" y2="134" stroke="#20a080" stroke-width="1.6"/>
<line x1="589" y1="154.8" x2="599.2" y2="154.8" stroke="#20a080" stroke-width="1.6"/>
<line x1="584.5" y1="116" x2="592" y2="116" stroke="#20a080" stroke-width="1.6"/>
<line x1="596" y1="112" x2="603" y2="112" stroke="#20a080" stroke-width="1.6"/>
<path d="M482,118 C482.33,120 483.5,126.33 484,130 C484.5,133.67 484.67,137 485,140 C485.33,143 485.83,146.67 486,148" fill="none" stroke="#20a080" stroke-width="7" stroke-linecap="round" stroke-linejoin="round"/>
<path d="M487,118 C487.25,120.83 488.25,130.83 488.5,135 C488.75,139.17 488.5,141.67 488.5,143" fill="none" stroke="#20a080" stroke-width="6" stroke-linecap="round" stroke-linejoin="round"/>
<path d="M594,118 C594.17,120 594.83,126.67 595,130 C595.17,133.33 595,136.67 595,138" fill="none" stroke="#20a080" stroke-width="7" stroke-linecap="round" stroke-linejoin="round"/>
<path d="M594.5,144 L594.5,152" fill="none" stroke="#20a080" stroke-width="3" stroke-linecap="round" stroke-linejoin="round"/>
<path id="b_red1" d="M416.2,23.5 C418.03,24.38 423.23,26.6 427.2,28.8 C431.17,31 435.75,33.78 440,36.7 C444.25,39.62 448.72,42.7 452.7,46.3 C456.68,49.9 460.7,54.7 463.9,58.3 C467.1,61.9 469.5,64.17 471.9,67.9 C474.3,71.63 476.53,76.02 478.3,80.7 C480.07,85.38 481.42,91.12 482.5,96 C483.58,100.88 484.22,105.17 484.8,110 C485.38,114.83 485.73,119.17 486,125 C486.27,130.83 486.32,131.67 486.4,145 C486.48,158.33 486.48,195 486.5,205" fill="none" stroke="#ff0000" stroke-width="3.2" stroke-dasharray="11.84 5.12" stroke-dashoffset="0"/>
<path id="b_red2" d="M486.9,205 C486.92,195 486.88,158.33 487,145 C487.12,131.67 487.23,131.27 487.6,125 C487.97,118.73 488.4,112.47 489.2,107.4 C490,102.33 491.07,98.6 492.4,94.6 C493.73,90.6 495.32,86.75 497.2,83.4 C499.08,80.05 501.02,77.32 503.7,74.5 C506.38,71.68 510.1,68.77 513.3,66.5 C516.5,64.23 519.42,62.32 522.9,60.9 C526.38,59.48 530.72,58.48 534.2,58 C537.68,57.52 540.6,57.65 543.8,58 C547,58.35 550.18,59.22 553.4,60.1 C556.62,60.98 559.88,61.7 563.1,63.3 C566.32,64.9 570.03,67.43 572.7,69.7 C575.37,71.97 577.22,74.08 579.1,76.9 C580.98,79.72 582.65,83.38 584,86.6 C585.35,89.82 586.27,92.73 587.2,96.2 C588.13,99.67 588.93,103.43 589.6,107.4 C590.27,111.37 590.77,114.57 591.2,120 C591.63,125.43 591.97,125.83 592.2,140 C592.43,154.17 592.53,194.17 592.6,205" fill="none" stroke="#ff0000" stroke-width="3.2" stroke-dasharray="11.84 5.12" stroke-dashoffset="4.5"/>
<path id="b_red3" d="M593.1,205 C593.13,194.17 593.15,153.83 593.3,140 C593.45,126.17 593.58,127.33 594,122 C594.42,116.67 595.02,112.67 595.8,108 C596.58,103.33 597.5,98.83 598.7,94 C599.9,89.17 601.48,83.35 603,79 C604.52,74.65 605.93,71.57 607.8,67.9 C609.67,64.23 611.8,60.38 614.2,57 C616.6,53.62 619.28,50.57 622.2,47.6 C625.12,44.63 628.25,41.88 631.7,39.2 C635.15,36.52 639.17,33.87 642.9,31.5 C646.63,29.13 650.63,26.85 654.1,25 C657.57,23.15 660.23,21.97 663.7,20.4 C667.17,18.83 671.35,17 674.9,15.6 C678.45,14.2 683.32,12.6 685,12" fill="none" stroke="#ff0000" stroke-width="3.2" stroke-dasharray="11.84 5.12" stroke-dashoffset="6.56"/>
</g>
<g clip-path="url(#clipc)">
<path d="M62,389.5 C62.92,389.5 65.83,389.63 67.5,389.5 C69.17,389.37 70.75,387.62 72,388.7 C73.25,389.78 73.5,395.25 75,396 C76.5,396.75 79.25,394.03 81,393.2 C82.75,392.37 84.25,390.3 85.5,391 C86.75,391.7 87.25,396 88.5,397.4 C89.75,398.8 91.52,400.13 93,399.4 C94.48,398.67 95.9,394.9 97.4,393 C98.9,391.1 100.5,388.33 102,388 C103.5,387.67 105.4,389.17 106.4,391 C107.4,392.83 107.23,396.93 108,399 C108.77,401.07 109.77,402.33 111,403.4 C112.23,404.47 113.9,406.73 115.4,405.4 C116.9,404.07 118.73,397.63 120,395.4 C121.27,393.17 122,392.75 123,392 C124,391.25 124.5,391.83 126,390.9 C127.5,389.97 130.25,386.65 132,386.4 C133.75,386.15 135,389.4 136.5,389.4 C138,389.4 140,387.9 141,386.4 C142,384.9 141.77,383.13 142.5,380.4 C143.23,377.67 144.42,372.23 145.4,370 C146.38,367.77 146.9,368.25 148.4,367 C149.9,365.75 152.4,364.25 154.4,362.5 C156.4,360.75 158.4,357.75 160.4,356.5 C162.4,355.25 164.4,355.38 166.4,355 C168.4,354.62 170.65,354.2 172.4,354.2 C174.15,354.2 175.63,354.62 176.9,355 C178.17,355.38 178.82,355.92 180,356.5 C181.18,357.08 183.33,358.17 184,358.5 L184,366 C183.33,366.07 181.18,366.07 180,366.4 C178.82,366.73 178.17,367.57 176.9,368 C175.63,368.43 173.88,368.1 172.4,369 C170.92,369.9 169.73,372.17 168,373.4 C166.27,374.63 164,375.48 162,376.4 C160,377.32 157.77,377.4 156,378.9 C154.23,380.4 152.4,383.57 151.4,385.4 C150.4,387.23 150.9,388.3 150,389.9 C149.1,391.5 147,393.5 146,395 C145,396.5 145.33,397.75 144,398.9 C142.67,400.05 140,401.48 138,401.9 C136,402.32 134,400.98 132,401.4 C130,401.82 127.5,402.8 126,404.4 C124.5,406 124,409.4 123,411 C122,412.6 120.77,412.27 120,414 C119.23,415.73 118.9,419.17 118.4,421.4 C117.9,423.63 117.73,425.63 117,427.4 C116.27,429.17 115,431.73 114,432 C113,432.27 112,430.77 111,429 C110,427.23 109,423.9 108,421.4 C107,418.9 106.27,416.5 105,414 C103.73,411.5 102.17,407.17 100.4,406.4 C98.63,405.63 96.13,408.52 94.4,409.4 C92.67,410.28 91.48,411.2 90,411.7 C88.52,412.2 87,411.78 85.5,412.4 C84,413.02 82.75,415.13 81,415.4 C79.25,415.67 76.75,415.33 75,414 C73.25,412.67 71.75,409.73 70.5,407.4 C69.25,405.07 68.92,401.23 67.5,400 C66.08,398.77 62.92,400 62,400 Z" fill="#30618c" stroke="#30618c" stroke-width="2" stroke-linejoin="round"/>
<path d="M182,361 C182.67,361.5 184.67,362.83 186,364 C187.33,365.17 188.67,366.83 190,368 C191.33,369.17 192.27,369.83 194,371 C195.73,372.17 198.4,373.88 200.4,375 C202.4,376.12 204.23,376.87 206,377.7 C207.77,378.53 209.33,379.18 211,380 C212.67,380.82 214.5,381.68 216,382.6 C217.5,383.52 218.67,384.85 220,385.5 C221.33,386.15 222.75,386.83 224,386.5 C225.25,386.17 226.33,384.25 227.5,383.5 C228.67,382.75 229.58,381.92 231,382 C232.42,382.08 234.33,382.5 236,384 C237.67,385.5 239.33,389 241,391 C242.67,393 244.5,394.67 246,396 C247.5,397.33 248.53,397.83 250,399 C251.47,400.17 253.47,401.77 254.8,403 C256.13,404.23 256.67,405.57 258,406.4 C259.33,407.23 261.2,407.4 262.8,408 C264.4,408.6 266.27,409.33 267.6,410 C268.93,410.67 269.73,411.83 270.8,412 C271.87,412.17 272.42,411.33 274,411 C275.58,410.67 278.45,410.33 280.3,410 C282.15,409.67 283.82,409.5 285.1,409 C286.38,408.5 286.62,406.67 288,407 C289.38,407.33 291.9,409.67 293.4,411 C294.9,412.33 295.65,413.25 297,415 C298.35,416.75 300,420 301.5,421.5 C303,423 304.35,423.17 306,424 C307.65,424.83 309.9,425.5 311.4,426.5 C312.9,427.5 313.52,429 315,430 C316.48,431 318.67,431.67 320.3,432.5 C321.93,433.33 323.18,434.25 324.8,435 C326.42,435.75 329.13,436.67 330,437" fill="none" stroke="#30618c" stroke-width="9" stroke-linecap="round" stroke-linejoin="round"/>
<line x1="114" y1="425" x2="114" y2="438" stroke="#30618c" stroke-width="1.6"/><line x1="110" y1="425" x2="118" y2="425" stroke="#30618c" stroke-width="1.6"/><line x1="110" y1="438" x2="118" y2="438" stroke="#30618c" stroke-width="1.6"/>
<line x1="111" y1="412" x2="111" y2="428" stroke="#30618c" stroke-width="1.6"/><line x1="107" y1="412" x2="115" y2="412" stroke="#30618c" stroke-width="1.6"/><line x1="107" y1="428" x2="115" y2="428" stroke="#30618c" stroke-width="1.6"/>
<line x1="116" y1="408" x2="116" y2="424" stroke="#30618c" stroke-width="1.6"/><line x1="112" y1="408" x2="120" y2="408" stroke="#30618c" stroke-width="1.6"/><line x1="112" y1="424" x2="120" y2="424" stroke="#30618c" stroke-width="1.6"/>
<line x1="109" y1="402" x2="109" y2="418" stroke="#30618c" stroke-width="1.6"/><line x1="105" y1="402" x2="113" y2="402" stroke="#30618c" stroke-width="1.6"/><line x1="105" y1="418" x2="113" y2="418" stroke="#30618c" stroke-width="1.6"/>
<path id="c_red" d="M66.5,396.7 C68.33,396.17 73.92,394.65 77.5,393.5 C81.08,392.35 84.42,391.08 88,389.8 C91.58,388.52 95.33,387.18 99,385.8 C102.67,384.42 106.33,383.05 110,381.5 C113.67,379.95 117.45,378.25 121,376.5 C124.55,374.75 127.9,372.68 131.3,371 C134.7,369.32 137.65,368.23 141.4,366.4 C145.15,364.57 150.32,361.48 153.8,360 C157.28,358.52 160.02,358 162.3,357.5 C164.58,357 165.47,356.95 167.5,357 C169.53,357.05 172.55,357.3 174.5,357.8 C176.45,358.3 176.67,358.63 179.2,360 C181.73,361.37 187.23,364.52 189.7,366 C192.17,367.48 191.68,367.35 194,368.9 C196.32,370.45 201.2,373.7 203.6,375.3 C206,376.9 206,376.97 208.4,378.5 C210.8,380.03 215.62,382.93 218,384.5 C220.38,386.07 220.7,386.68 222.7,387.9 C224.7,389.12 227.12,390.2 230,391.8 C232.88,393.4 236.27,395.22 240,397.5 C243.73,399.78 248.53,403.33 252.4,405.5 C256.27,407.67 260.53,409.25 263.2,410.5 C265.87,411.75 265.82,411.95 268.4,413 C270.98,414.05 275.1,415.38 278.7,416.8 C282.3,418.22 284.93,419.63 290,421.5 C295.07,423.37 303.17,425.93 309.1,428 C315.03,430.07 321.78,432.57 325.6,433.9 C329.42,435.23 330.93,435.65 332,436" fill="none" stroke="#ff0000" stroke-width="3.2" stroke-dasharray="11.84 5.12" stroke-dashoffset="0"/>
<path id="c_or_l" d="M66.5,393.3 C68.33,392.9 73.92,392.05 77.5,390.9 C81.08,389.75 84.42,388.02 88,386.4 C91.58,384.78 95.33,382.9 99,381.2 C102.67,379.5 106.67,377.98 110,376.2 C113.33,374.42 116.02,372.78 119,370.5 C121.98,368.22 125.1,365.08 127.9,362.5 C130.7,359.92 133.92,357.12 135.8,355 C137.68,352.88 137.5,352.2 139.2,349.8 C140.9,347.4 144.03,344.4 146,340.6 C147.97,336.8 149.67,330.6 151,327 C152.33,323.4 153,321.67 154,319 C155,316.33 156.07,314 157,311 C157.93,308 158.77,304.5 159.6,301 C160.43,297.5 161.33,293.83 162,290 C162.67,286.17 163.17,281.5 163.6,278 C164.03,274.5 164.33,271.5 164.6,269 C164.87,266.5 165,266.17 165.2,263 C165.4,259.83 165.7,252.17 165.8,250" fill="none" stroke="#ffa500" stroke-width="3.2" stroke-dasharray="11.84 5.12" stroke-dashoffset="0"/>
<path id="c_or_r" d="M169.8,250 C169.93,252.17 170.23,258.33 170.6,263 C170.97,267.67 171.43,273.17 172,278 C172.57,282.83 173.17,287.33 174,292 C174.83,296.67 175.83,301.33 177,306 C178.17,310.67 179.67,315.75 181,320 C182.33,324.25 183.33,327.5 185,331.5 C186.67,335.5 189.03,339.97 191,344 C192.97,348.03 194.57,352.27 196.8,355.7 C199.03,359.13 202.53,362.32 204.4,364.6 C206.27,366.88 206.15,367.27 208,369.4 C209.85,371.53 213.52,375.42 215.5,377.4 C217.48,379.38 217.63,379.58 219.9,381.3 C222.17,383.02 225.75,385.5 229.1,387.7 C232.45,389.9 236.52,392.15 240,394.5 C243.48,396.85 246.83,399.78 250,401.8 C253.17,403.82 256.67,405.33 259,406.6 C261.33,407.87 261.43,408.13 264,409.4 C266.57,410.67 271.82,412.98 274.4,414.2 C276.98,415.42 276.9,415.58 279.5,416.7 C282.1,417.82 287.23,419.75 290,420.9 C292.77,422.05 293.43,422.62 296.1,423.6 C298.77,424.58 303.15,425.87 306,426.8 C308.85,427.73 309.93,428.12 313.2,429.2 C316.47,430.28 322.47,432.25 325.6,433.3 C328.73,434.35 330.93,435.13 332,435.5" fill="none" stroke="#ffa500" stroke-width="3.2" stroke-dasharray="11.84 5.12" stroke-dashoffset="7.28"/>
</g>
<g clip-path="url(#clipd)">
<path d="M412,411.2 C412.67,411.2 414.07,411.67 416,411.2 C417.93,410.73 421.38,409.03 423.6,408.4 C425.82,407.77 427.08,409.13 429.3,407.4 C431.52,405.67 435,400.83 436.9,398 C438.8,395.17 438.8,391.98 440.7,390.4 C442.6,388.82 445.78,389.13 448.3,388.5 C450.82,387.87 452.97,387.4 455.8,386.6 C458.63,385.8 462.77,384.97 465.3,383.7 C467.83,382.43 468.47,380.48 471,379 C473.53,377.52 477.65,374.8 480.5,374.8 C483.35,374.8 485.88,378.3 488.1,379 C490.32,379.7 491.27,378.85 493.8,379 C496.33,379.15 500.77,379.12 503.3,379.9 C505.83,380.68 506.47,383.38 509,383.7 C511.53,384.02 515.02,381.17 518.5,381.8 C521.98,382.43 526.75,386.23 529.9,387.5 C533.05,388.77 534.72,388.83 537.4,389.4 C540.08,389.97 543.3,390.73 546,390.9 C548.7,391.07 551.07,389.85 553.6,390.4 C556.13,390.95 558.67,394.2 561.2,394.2 C563.73,394.2 565.63,391.67 568.8,390.4 C571.97,389.13 576.73,387.55 580.2,386.6 C583.67,385.65 586.45,384.38 589.6,384.7 C592.75,385.02 595.93,387.55 599.1,388.5 C602.27,389.45 605.43,389.45 608.6,390.4 C611.77,391.35 614.93,392.93 618.1,394.2 C621.27,395.47 624.43,397.53 627.6,398 C630.77,398.47 634.57,396.7 637.1,397 C639.63,397.3 640.58,398.07 642.8,399.8 C645.02,401.53 647.55,406.13 650.4,407.4 C653.25,408.67 657.38,406.45 659.9,407.4 C662.42,408.35 663.62,411.52 665.5,413.1 C667.38,414.68 668.78,415.58 671.2,416.9 C673.62,418.22 678.53,420.32 680,421 L680,429.3 C678.53,429.3 673.62,429.78 671.2,429.3 C668.78,428.82 667.38,428.47 665.5,426.4 C663.62,424.33 662.73,418.8 659.9,416.9 C657.07,415 651.67,415.63 648.5,415 C645.33,414.37 643.43,414.37 640.9,413.1 C638.37,411.83 635.83,408.18 633.3,407.4 C630.77,406.62 628.23,408.23 625.7,408.4 C623.17,408.57 620.95,409.35 618.1,408.4 C615.25,407.45 611.77,403.97 608.6,402.7 C605.43,401.43 602.27,401.43 599.1,400.8 C595.93,400.17 592.75,399.22 589.6,398.9 C586.45,398.58 583.67,398.27 580.2,398.9 C576.73,399.53 571.97,401.28 568.8,402.7 C565.63,404.12 563.73,407.72 561.2,407.4 C558.67,407.08 556.13,401.83 553.6,400.8 C551.07,399.77 548.7,401.37 546,401.2 C543.3,401.03 540.08,399.17 537.4,399.8 C534.72,400.43 532.42,405.3 529.9,405 C527.38,404.7 525.47,398.87 522.3,398 C519.13,397.13 514.07,399.18 510.9,399.8 C507.73,400.42 505.83,402 503.3,401.7 C500.77,401.4 498.23,399.25 495.7,398 C493.17,396.75 490.95,394.2 488.1,394.2 C485.25,394.2 482.08,397.68 478.6,398 C475.12,398.32 470.37,395.63 467.2,396.1 C464.03,396.57 462.12,398.6 459.6,400.8 C457.08,403 454.62,407.25 452.1,409.3 C449.58,411.35 447.03,411.2 444.5,413.1 C441.97,415 439.12,418.48 436.9,420.7 C434.68,422.92 433.42,424.82 431.2,426.4 C428.98,427.98 426.13,428.3 423.6,430.2 C421.07,432.1 417.93,436.53 416,437.8 C414.07,439.07 412.67,437.8 412,437.8 Z" fill="#30618c" stroke="#30618c" stroke-width="2" stroke-linejoin="round"/>
<line x1="589.6" y1="384.3" x2="589.6" y2="398" stroke="#30618c" stroke-width="1.6"/><line x1="585.6" y1="384.3" x2="593.6" y2="384.3" stroke="#30618c" stroke-width="1.6"/><line x1="585.6" y1="398" x2="593.6" y2="398" stroke="#30618c" stroke-width="1.6"/>
<path id="d_red" d="M410,424.5 C411.03,423.97 414.2,422.35 416.2,421.3 C418.2,420.25 419.63,419.67 422,418.2 C424.37,416.73 427.48,414.48 430.4,412.5 C433.32,410.52 437.32,407.92 439.5,406.3 C441.68,404.68 441.72,404.18 443.5,402.8 C445.28,401.42 447.2,400.07 450.2,398 C453.2,395.93 457.72,392.3 461.5,390.4 C465.28,388.5 469.1,387.4 472.9,386.6 C476.7,385.8 480.5,385.6 484.3,385.6 C488.1,385.6 491.9,385.97 495.7,386.6 C499.5,387.23 502.67,388.45 507.1,389.4 C511.53,390.35 517.25,391.5 522.3,392.3 C527.35,393.1 533.45,393.83 537.4,394.2 C541.35,394.57 541.4,394.67 546,394.5 C550.6,394.33 558.67,393.88 565,393.2 C571.33,392.52 578.32,390.55 584,390.4 C589.68,390.25 594.68,391.2 599.1,392.3 C603.52,393.4 606.7,395.27 610.5,397 C614.3,398.73 618.42,400.48 621.9,402.7 C625.38,404.92 628.23,407.93 631.4,410.3 C634.57,412.67 637.42,414.22 640.9,416.9 C644.38,419.58 648.52,422.92 652.3,426.4 C656.08,429.88 660.13,434.32 663.6,437.8 C667.07,441.28 670.37,444.6 673.1,447.3 C675.83,450 678.85,452.88 680,454" fill="none" stroke="#ff0000" stroke-width="3.2" stroke-dasharray="11.84 5.12" stroke-dashoffset="10.02"/>
<path id="d_or_l" d="M410,420 C411.08,419.17 414.1,417 416.5,415 C418.9,413 422.48,409.87 424.4,408 C426.32,406.13 426.07,405.87 428,403.8 C429.93,401.73 434.17,397.77 436,395.6 C437.83,393.43 437.58,392.78 439,390.8 C440.42,388.82 442.83,386.07 444.5,383.7 C446.17,381.33 447.35,379.3 449,376.6 C450.65,373.9 453.1,369.97 454.4,367.5 C455.7,365.03 455.6,364.38 456.8,361.8 C458,359.22 460.5,354.55 461.6,352 C462.7,349.45 462.42,349.17 463.4,346.5 C464.38,343.83 466.4,340 467.5,336 C468.6,332 469.05,326.33 470,322.5 C470.95,318.67 472.17,316.42 473.2,313 C474.23,309.58 475.57,304.75 476.2,302 C476.83,299.25 476.5,299.25 477,296.5 C477.5,293.75 478.7,288.33 479.2,285.5 C479.7,282.67 479.7,282.33 480,279.5 C480.3,276.67 480.75,271.25 481,268.5 C481.25,265.75 481.33,266.08 481.5,263 C481.67,259.92 481.92,252.17 482,250" fill="none" stroke="#ffa500" stroke-width="3.2" stroke-dasharray="11.84 5.12" stroke-dashoffset="9.12"/>
<path id="d_or_m" d="M492.5,250 C492.62,252.17 492.93,259.23 493.2,263 C493.47,266.77 493.63,269.27 494.1,272.6 C494.57,275.93 495.43,280.18 496,283 C496.57,285.82 496.83,286.67 497.5,289.5 C498.17,292.33 499.33,297.25 500,300 C500.67,302.75 500.58,303.33 501.5,306 C502.42,308.67 504.42,313.33 505.5,316 C506.58,318.67 506.68,319.52 508,322 C509.32,324.48 511.6,328.48 513.4,330.9 C515.2,333.32 516.63,334.48 518.8,336.5 C520.97,338.52 524.45,341.38 526.4,343 C528.35,344.62 527.87,345.1 530.5,346.2 C533.13,347.3 538.3,349.55 542.2,349.6 C546.1,349.65 550.87,347.85 553.9,346.5 C556.93,345.15 558.47,343.25 560.4,341.5 C562.33,339.75 563.9,337.92 565.5,336 C567.1,334.08 568.53,332.43 570,330 C571.47,327.57 572.92,324.78 574.3,321.4 C575.68,318.02 576.83,314.08 578.3,309.7 C579.77,305.32 581.5,300.28 583.1,295.1 C584.7,289.92 586.68,282.87 587.9,278.6 C589.12,274.33 589.65,272.1 590.4,269.5 C591.15,266.9 591.88,266.25 592.4,263 C592.92,259.75 593.32,252.17 593.5,250" fill="none" stroke="#ffa500" stroke-width="3.2" stroke-dasharray="11.84 5.12" stroke-dashoffset="10.54"/>
<path id="d_or_r" d="M594.2,250 C594.35,252.17 594.55,258.83 595.1,263 C595.65,267.17 596.68,271 597.5,275 C598.32,279 599.2,283.02 600,287 C600.8,290.98 601.47,295.07 602.3,298.9 C603.13,302.73 604.2,306 605,310 C605.8,314 606.35,319.15 607.1,322.9 C607.85,326.65 608.3,327.92 609.5,332.5 C610.7,337.08 613.1,346.22 614.3,350.4 C615.5,354.58 615.75,355 616.7,357.6 C617.65,360.2 618.82,362.75 620,366 C621.18,369.25 621.58,372.08 623.8,377.1 C626.02,382.12 630.13,390.42 633.3,396.1 C636.47,401.78 639.63,406.47 642.8,411.2 C645.97,415.93 648.83,420.07 652.3,424.5 C655.77,428.93 659.82,433.68 663.6,437.8 C667.38,441.92 672.27,446.5 675,449.2 C677.73,451.9 679.17,453.2 680,454" fill="none" stroke="#ffa500" stroke-width="3.2" stroke-dasharray="11.84 5.12" stroke-dashoffset="11.64"/>
</g>
<line x1="192.3" y1="152.2" x2="221.9" y2="152.2" stroke="#ff0000" stroke-width="3.2" stroke-dasharray="12.3 4.6"/>
<line x1="209" y1="167.7" x2="209" y2="184.1" stroke="#20a080" stroke-width="2"/><line x1="204" y1="167.7" x2="214" y2="167.7" stroke="#20a080" stroke-width="2"/><line x1="204" y1="184.1" x2="214" y2="184.1" stroke="#20a080" stroke-width="2"/><circle cx="209" cy="175.9" r="4.2" fill="#20a080"/>
<text x="238.8" y="158.2" textLength="70.8" lengthAdjust="spacingAndGlyphs" style="font-family:'Liberation Sans',sans-serif;font-size:16px">Simulated</text>
<text x="238.8" y="181.4" textLength="70.8" lengthAdjust="spacingAndGlyphs" style="font-family:'Liberation Sans',sans-serif;font-size:16px">Measured</text>
<text x="81.2" y="181.7" textLength="65" lengthAdjust="spacingAndGlyphs" style="font-family:'Liberation Sans',sans-serif;font-size:17.5px">λ/4 filter</text>
<line x1="481" y1="15.3" x2="510.5" y2="15.3" stroke="#ff0000" stroke-width="3.2" stroke-dasharray="12.3 4.6"/>
<line x1="497.4" y1="30.6" x2="497.4" y2="47" stroke="#20a080" stroke-width="2"/><line x1="492.4" y1="30.6" x2="502.4" y2="30.6" stroke="#20a080" stroke-width="2"/><line x1="492.4" y1="47" x2="502.4" y2="47" stroke="#20a080" stroke-width="2"/><circle cx="497.4" cy="38.8" r="4.2" fill="#20a080"/>
<text x="527.4" y="21.2" textLength="70.7" lengthAdjust="spacingAndGlyphs" style="font-family:'Liberation Sans',sans-serif;font-size:16px">Simulated</text>
<text x="527.4" y="44.9" textLength="70.7" lengthAdjust="spacingAndGlyphs" style="font-family:'Liberation Sans',sans-serif;font-size:16px">Measured</text>
<text x="508.9" y="184.7" textLength="66.4" lengthAdjust="spacingAndGlyphs" style="font-family:'Liberation Sans',sans-serif;font-size:17.5px">λ/2 filter</text>
<line x1="179.7" y1="279.8" x2="204.5" y2="279.8" stroke="#ff0000" stroke-width="2.8" stroke-dasharray="10.5 4"/>
<line x1="179.7" y1="298.9" x2="204.5" y2="298.9" stroke="#ffa500" stroke-width="2.8" stroke-dasharray="10.5 4"/>
<line x1="193.3" y1="311.8" x2="193.3" y2="325.4" stroke="#30618c" stroke-width="1.8"/><line x1="189.05" y1="311.8" x2="197.55" y2="311.8" stroke="#30618c" stroke-width="1.8"/><line x1="189.05" y1="325.4" x2="197.55" y2="325.4" stroke="#30618c" stroke-width="1.8"/><circle cx="193.3" cy="318.6" r="3.6" fill="#30618c"/>
<text x="218.4" y="284.5" textLength="96.3" lengthAdjust="spacingAndGlyphs" style="font-family:'Liberation Sans',sans-serif;font-size:13.8px">Simulated w/ DL</text>
<text x="218.4" y="303.4" textLength="104.4" lengthAdjust="spacingAndGlyphs" style="font-family:'Liberation Sans',sans-serif;font-size:13.8px">Simulated w/o DL</text>
<text x="218.4" y="322.8" textLength="59.1" lengthAdjust="spacingAndGlyphs" style="font-family:'Liberation Sans',sans-serif;font-size:13.8px">Measured</text>
<rect x="527.6" y="268.5" width="143.2" height="57.5" fill="#f9f9f9" fill-opacity="0.82"/>
<line x1="527.9" y1="279.5" x2="552.8" y2="279.5" stroke="#ff0000" stroke-width="2.8" stroke-dasharray="10.5 4"/>
<line x1="527.9" y1="299.1" x2="552.8" y2="299.1" stroke="#ffa500" stroke-width="2.8" stroke-dasharray="10.5 4"/>
<line x1="541.5" y1="310.8" x2="541.5" y2="324.4" stroke="#30618c" stroke-width="1.8"/><line x1="537.25" y1="310.8" x2="545.75" y2="310.8" stroke="#30618c" stroke-width="1.8"/><line x1="537.25" y1="324.4" x2="545.75" y2="324.4" stroke="#30618c" stroke-width="1.8"/><circle cx="541.5" cy="317.6" r="3.6" fill="#30618c"/>
<text x="566.8" y="284.5" textLength="96.3" lengthAdjust="spacingAndGlyphs" style="font-family:'Liberation Sans',sans-serif;font-size:13.8px">Simulated w/ DL</text>
<text x="566.8" y="303.4" textLength="104.4" lengthAdjust="spacingAndGlyphs" style="font-family:'Liberation Sans',sans-serif;font-size:13.8px">Simulated w/o DL</text>
<text x="566.8" y="322.8" textLength="59.1" lengthAdjust="spacingAndGlyphs" style="font-family:'Liberation Sans',sans-serif;font-size:13.8px">Measured</text>
<text transform="translate(12,102.2) rotate(-90)" text-anchor="middle" textLength="156.5" lengthAdjust="spacingAndGlyphs" style="font-family:'Liberation Sans',sans-serif;font-size:16.5px">Rabi frequency (MHz)</text>
<text transform="translate(361.8,102) rotate(-90)" text-anchor="middle" textLength="156.5" lengthAdjust="spacingAndGlyphs" style="font-family:'Liberation Sans',sans-serif;font-size:16.5px">Rabi frequency (MHz)</text>
<text transform="translate(12.4,357.9) rotate(-90)" text-anchor="middle" style="font-family:'Liberation Serif',serif;font-size:18px"><tspan style="font-style:italic">T</tspan><tspan dy="3.2" style="font-size:12.6px">1</tspan><tspan dy="-3.2"> (</tspan><tspan style="font-style:italic">μs</tspan>)</text>
<text transform="translate(361.6,357.9) rotate(-90)" text-anchor="middle" style="font-family:'Liberation Serif',serif;font-size:18px"><tspan style="font-style:italic">T</tspan><tspan dy="3.2" style="font-size:12.6px">1</tspan><tspan dy="-3.2"> (</tspan><tspan style="font-style:italic">μs</tspan>)</text>
<text x="195.3" y="245" text-anchor="middle" textLength="161.5" lengthAdjust="spacingAndGlyphs" style="font-family:'Liberation Sans',sans-serif;font-size:16.5px">Qubit frequency (GHz)</text>
<text x="545.6" y="244.9" text-anchor="middle" textLength="161.5" lengthAdjust="spacingAndGlyphs" style="font-family:'Liberation Sans',sans-serif;font-size:16.5px">Qubit frequency (GHz)</text>
<text x="195.6" y="497.3" text-anchor="middle" textLength="161.5" lengthAdjust="spacingAndGlyphs" style="font-family:'Liberation Sans',sans-serif;font-size:16.5px">Qubit frequency (GHz)</text>
<text x="545.9" y="497.3" text-anchor="middle" textLength="161.5" lengthAdjust="spacingAndGlyphs" style="font-family:'Liberation Sans',sans-serif;font-size:16.5px">Qubit frequency (GHz)</text>
<text x="1.6" y="11" style="font-family:'Liberation Sans',sans-serif;font-size:17.5px">a</text>
<text x="352.6" y="12.8" style="font-family:'Liberation Sans',sans-serif;font-size:17.5px">b</text>
<text x="1.8" y="267.7" style="font-family:'Liberation Sans',sans-serif;font-size:17.5px">c</text>
<text x="352.6" y="268.6" style="font-family:'Liberation Sans',sans-serif;font-size:17.5px">d</text>
</svg></body></html>
